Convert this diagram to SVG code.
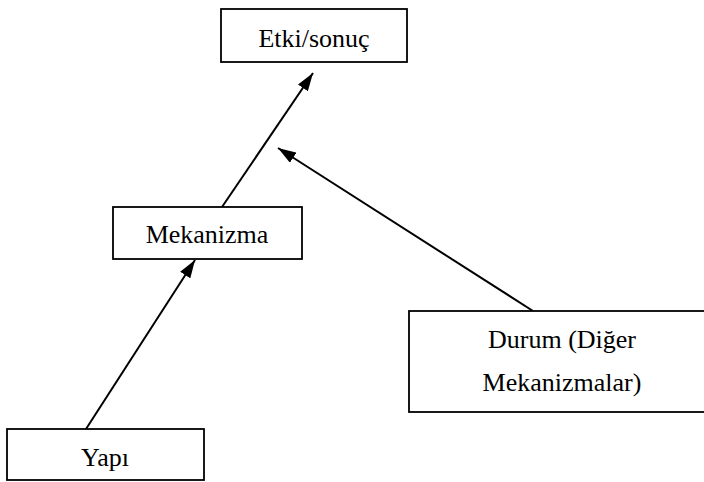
<svg xmlns="http://www.w3.org/2000/svg" width="704" height="482" viewBox="0 0 704 482">
  <style>
    .box { fill: #ffffff; stroke: #000000; stroke-width: 1.8; }
    .lbl { font-family: "Liberation Serif", "Times New Roman", serif; font-size: 26px; fill: #000000; text-anchor: middle; }
    .edge { stroke: #000000; stroke-width: 2; fill: none; marker-end: url(#head); }
  </style>
  <defs>
    <marker id="head" viewBox="0 0 18 12" refX="18" refY="6" markerWidth="18" markerHeight="12" markerUnits="userSpaceOnUse" orient="auto">
      <path d="M0,0 L18,6 L0,12 Z" fill="#000000"/>
    </marker>
  </defs>

  <g id="connectors">
    <line class="edge" x1="86" y1="429" x2="195" y2="260"/>
    <line class="edge" x1="222" y1="207" x2="313" y2="73"/>
    <line class="edge" x1="533" y1="311" x2="278" y2="148"/>
  </g>

  <g id="etki-sonuc">
    <rect class="box" x="221" y="9" width="186" height="53"/>
    <text class="lbl" x="314" y="47">Etki/sonuç</text>
  </g>

  <g id="mekanizma">
    <rect class="box" x="113" y="207" width="189" height="52"/>
    <text class="lbl" x="207" y="243">Mekanizma</text>
  </g>

  <g id="durum">
    <rect class="box" x="409" y="311" width="310" height="101"/>
    <text class="lbl" x="562" y="348">Durum (Diğer</text>
    <text class="lbl" x="562" y="391">Mekanizmalar)</text>
  </g>

  <g id="yapi">
    <rect class="box" x="7" y="429" width="197" height="51"/>
    <text class="lbl" x="105" y="466">Yapı</text>
  </g>
</svg>
